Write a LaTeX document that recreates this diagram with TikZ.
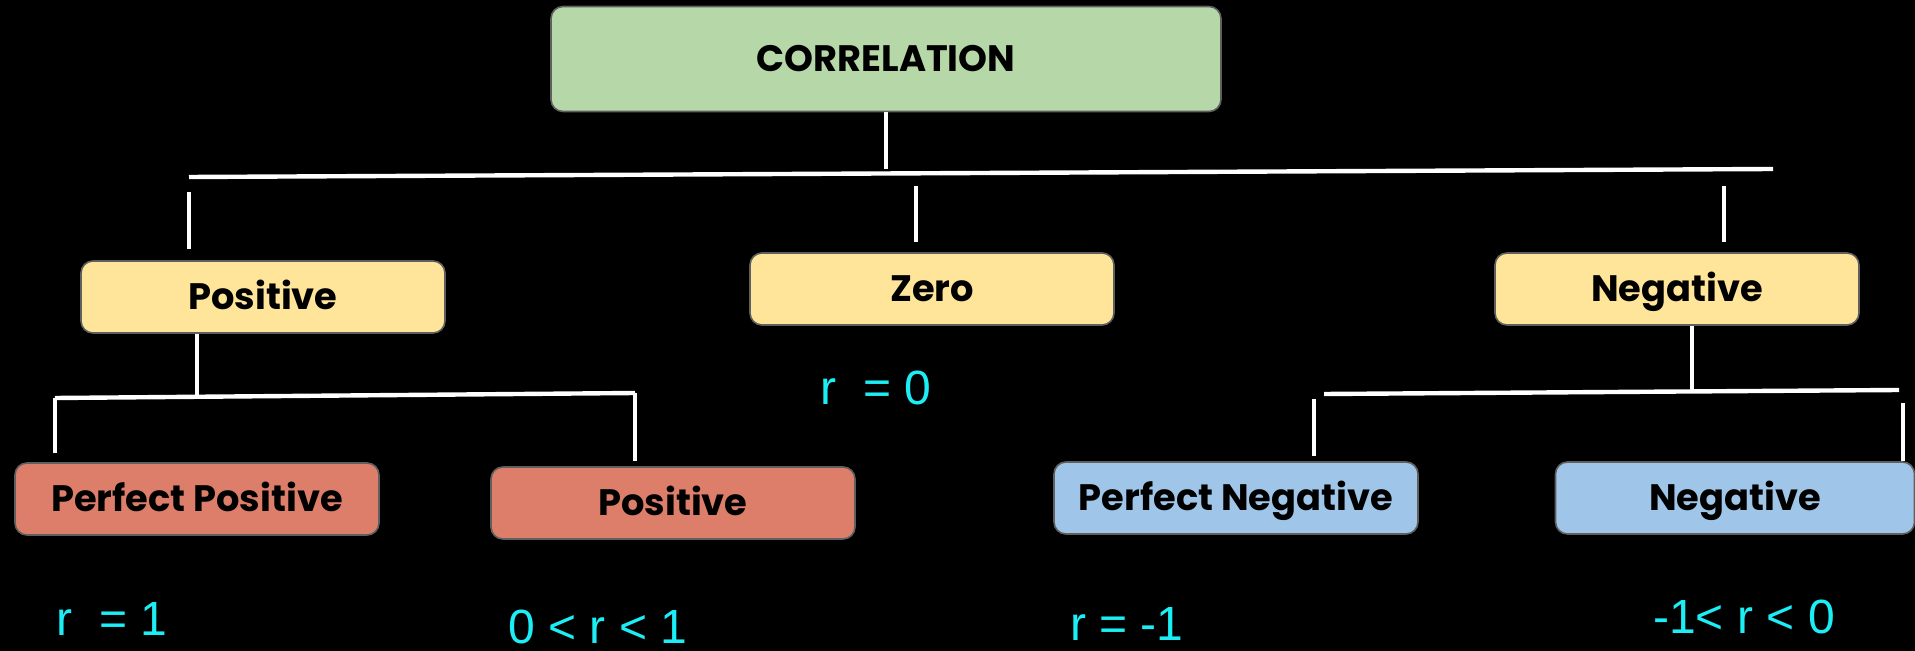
\documentclass[tikz,border=0pt]{standalone}
\usepackage{fontspec}
\newfontfamily\pop{Poppins}
\newfontfamily\lsans{Liberation Sans}
\definecolor{cgreen}{HTML}{B6D7A8}
\definecolor{cyellow}{HTML}{FFE599}
\definecolor{cred}{HTML}{DD7E6B}
\definecolor{cblue}{HTML}{9FC5E8}
\definecolor{cborder}{HTML}{5F5F5F}
\definecolor{ccyan}{HTML}{1CEEF5}
\tikzset{
  box/.style={draw=cborder, line width=0.8pt, rounded corners=6pt, minimum width=182pt, minimum height=36pt, inner sep=0pt, text height=12.8pt, text depth=0pt, font=\pop\bfseries\fontsize{18.4}{22}\selectfont, text=black},
  wire/.style={draw=white, line width=2.2pt},
  rlabel/.style={font=\lsans\fontsize{24}{28}\selectfont, text=ccyan, inner sep=0pt}
}
\begin{document}
\begin{tikzpicture}[x=0.5pt, y=-0.5pt]
\fill[black] (0,0) rectangle (1915,651);
\useasboundingbox (0,0) rectangle (1915,651);
% boxes
\node[box, fill=cgreen, minimum width=335pt, minimum height=52.5pt] (corr) at (886,59) {CORRELATION};
\node[box, fill=cyellow] (pos) at (263,297) {Positive};
\node[box, fill=cyellow] (zero) at (932,289) {Zero};
\node[box, fill=cyellow] (neg) at (1677,289) {Negative};
\node[box, fill=cred] (pp) at (197,499) {Perfect Positive};
\node[box, fill=cred] (posr) at (673,503) {Positive};
\node[box, fill=cblue] (pn) at (1236,498) {Perfect Negative};
\node[box, fill=cblue, minimum width=179.5pt] (negb) at (1735,498) {Negative};
% labels
\node[rlabel] (l0) at (876,388) {r\ \ = 0};
\node[rlabel] (l1) at (112,619) {r\ \ = 1};
\node[rlabel] (l2) at (598,627) {0 < r < 1};
\node[rlabel] (l3) at (1127,624) {r = -1};
\node[rlabel] (l4) at (1744,617) {-1< r < 0};
% top level connectors
\coordinate (barL) at (189,177);
\coordinate (barR) at (1773,169);
\coordinate (barM) at (886,169);
\coordinate (s1) at (189,192);
\coordinate (s2) at (916,186);
\coordinate (s3) at (1724,186);
\draw[wire] (corr.south) -- (barM);
\draw[wire] (barL) -- (barR);
\draw[wire, shorten >=5.5pt] (s1) -- (s1 |- pos.north);
\draw[wire, shorten >=5pt] (s2) -- (s2 |- zero.north);
\draw[wire, shorten >=5pt] (s3) -- (s3 |- neg.north);
% positive subtree
\coordinate (pbL) at (55,398);
\coordinate (pbR) at (635,393);
\coordinate (pbM) at (197,395);
\draw[wire] (pos.south -| pbM) -- (pbM);
\draw[wire] (pbL) -- (pbR);
\draw[wire, shorten >=4.5pt] (pbL) -- (pbL |- pp.north);
\draw[wire, shorten >=2.5pt] (pbR) -- (posr.north -| pbR);
% negative subtree
\coordinate (nbL) at (1324,394);
\coordinate (nbR) at (1899,390);
\coordinate (nbM) at (1692,391);
\coordinate (n1) at (1314,399);
\coordinate (n2) at (1903,403);
\draw[wire] (neg.south -| nbM) -- (nbM);
\draw[wire] (nbL) -- (nbR);
\draw[wire, shorten >=2.5pt] (n1) -- (n1 |- pn.north);
\draw[wire] (n2) -- (n2 |- negb.north);
\end{tikzpicture}
\end{document}
